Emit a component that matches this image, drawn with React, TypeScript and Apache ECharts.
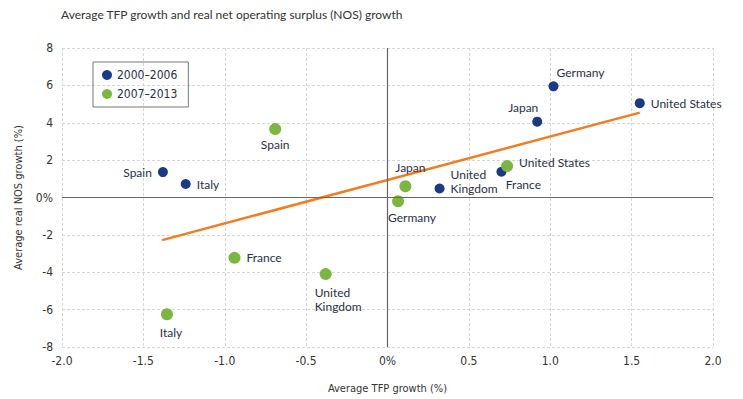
import React, { useEffect, useRef } from "react";
import * as echarts from "echarts";

const TITLE = "Average TFP growth and real net operating surplus (NOS) growth";
const SERIES_A = "2000–2006";
const SERIES_B = "2007–2013";

const countriesA = ["Spain", "Italy", "United\nKingdom", "France", "Japan", "Germany", "United States"];
const tfpA = [-1.38, -1.24, 0.32, 0.7, 0.92, 1.02, 1.55];
const nosA = [1.36, 0.72, 0.48, 1.38, 4.06, 5.95, 5.05];

const countriesB = ["Spain", "Japan", "Germany", "United States", "France", "United\nKingdom", "Italy"];
const tfpB = [-0.69, 0.11, 0.065, 0.735, -0.94, -0.38, -1.355];
const nosB = [3.66, 0.6, -0.2, 1.68, -3.23, -4.1, -6.25];

const trendX = [-1.385, 1.55];
const trendY = [-2.28, 4.54];

const xTicks: Record<string, string> = { "-2": "-2.0", "-1.5": "-1.5", "-1": "-1.0", "-0.5": "-0.5", "0": "0%", "0.5": "0.5", "1": "1.0", "1.5": "1.5", "2": "2.0" };

const labelA: any[] = [
  { position: "left", offset: [0, 0] },
  { position: "right", offset: [0, 0] },
  { position: "right", offset: [0, -7] },
  { position: "bottom", offset: [22, -5] },
  { position: "top", offset: [-14, 4] },
  { position: "top", offset: [27, 4] },
  { position: "right", offset: [0, 0] },
];
const labelB: any[] = [
  { position: "bottom", offset: [0, -4] },
  { position: "top", offset: [5, 0] },
  { position: "bottom", offset: [14, -3] },
  { position: "right", offset: [0, -4] },
  { position: "right", offset: [0, 0] },
  { position: "bottom", align: "left", offset: [-11, -1] },
  { position: "bottom", offset: [4, -1] },
];

export default function App() {
  const ref = useRef<HTMLDivElement>(null);
  useEffect(() => {
    if (!ref.current) return;
    const chart = echarts.init(ref.current, undefined, { renderer: "svg" });
    const labelFont = { fontFamily: "Lato", fontSize: 12, color: "#2a2f45" };
    const narrow = "'DejaVu Sans Condensed', 'Liberation Sans Narrow', sans-serif";
    chart.setOption({
      animation: false,
      title: {
        text: TITLE,
        left: 56,
        top: 3,
        textStyle: { fontFamily: "Lato", fontSize: 12, fontWeight: "normal", color: "#333" },
      },
      legend: {
        left: 93,
        top: 62,
        orient: "vertical",
        borderColor: "#777",
        borderWidth: 1,
        padding: [7, 11, 7, 9],
        itemGap: 7,
        icon: "circle",
        itemWidth: 10,
        itemHeight: 10,
        data: [SERIES_A, SERIES_B],
        textStyle: { fontFamily: narrow, fontSize: 12, color: "#2a2f45" },
      },
      grid: { left: 62, right: 30, top: 48, bottom: 49 },
      xAxis: {
        type: "value",
        min: -2,
        max: 2,
        interval: 0.5,
        name: "Average TFP growth (%)",
        nameLocation: "middle",
        nameGap: 36,
        nameTextStyle: { fontFamily: narrow, fontSize: 11, color: "#333" },
        axisLine: { show: false },
        axisTick: { show: false },
        axisLabel: {
          fontFamily: narrow,
          fontSize: 12,
          color: "#333",
          margin: 8,
          formatter: (v: number) => xTicks[String(v)] ?? String(v),
        },
        splitLine: { show: true, lineStyle: { type: [3, 2], color: "#d6d6d6" } },
      },
      yAxis: {
        type: "value",
        min: -8,
        max: 8,
        interval: 2,
        name: "Average real NOS growth (%)",
        nameLocation: "middle",
        nameGap: 38,
        nameTextStyle: { fontFamily: narrow, fontSize: 11, color: "#333" },
        axisLine: { show: false },
        axisTick: { show: false },
        axisLabel: {
          fontFamily: narrow,
          fontSize: 12,
          color: "#333",
          margin: 9,
          formatter: (v: number) => (v === 0 ? "0%" : String(v)),
        },
        splitLine: { show: true, lineStyle: { type: [3, 2], color: "#d6d6d6" } },
      },
      series: [
        {
          type: "line",
          name: "trend",
          data: trendX.map((x, i) => [x, trendY[i]]),
          showSymbol: false,
          symbol: "none",
          lineStyle: { color: "#f47b20", width: 2.5 },
          z: 1,
          silent: true,
          markLine: {
            symbol: "none",
            silent: true,
            label: { show: false },
            lineStyle: { color: "#666", width: 1.2, type: "solid" },
            data: [{ xAxis: 0 }, { yAxis: 0 }],
          },
        },
        {
          type: "scatter",
          name: SERIES_A,
          symbolSize: 10,
          itemStyle: { color: "#1b3a86", opacity: 1 },
          z: 3,
          data: tfpA.map((x, i) => ({
            value: [x, nosA[i]],
            name: countriesA[i],
            label: { show: true, formatter: countriesA[i], distance: 6, ...labelFont, lineHeight: 14, ...labelA[i] },
          })),
        },
        {
          type: "scatter",
          name: SERIES_B,
          symbolSize: 12,
          itemStyle: { color: "#7ab740", opacity: 1 },
          z: 3,
          data: tfpB.map((x, i) => ({
            value: [x, nosB[i]],
            name: countriesB[i],
            label: { show: true, formatter: countriesB[i], distance: 6, ...labelFont, lineHeight: 14, ...labelB[i] },
          })),
        },
      ],
    });
    return () => chart.dispose();
  }, []);
  return <div ref={ref} style={{ width: 743, height: 399, position: "absolute", left: 0, top: 0 }} />;
}
